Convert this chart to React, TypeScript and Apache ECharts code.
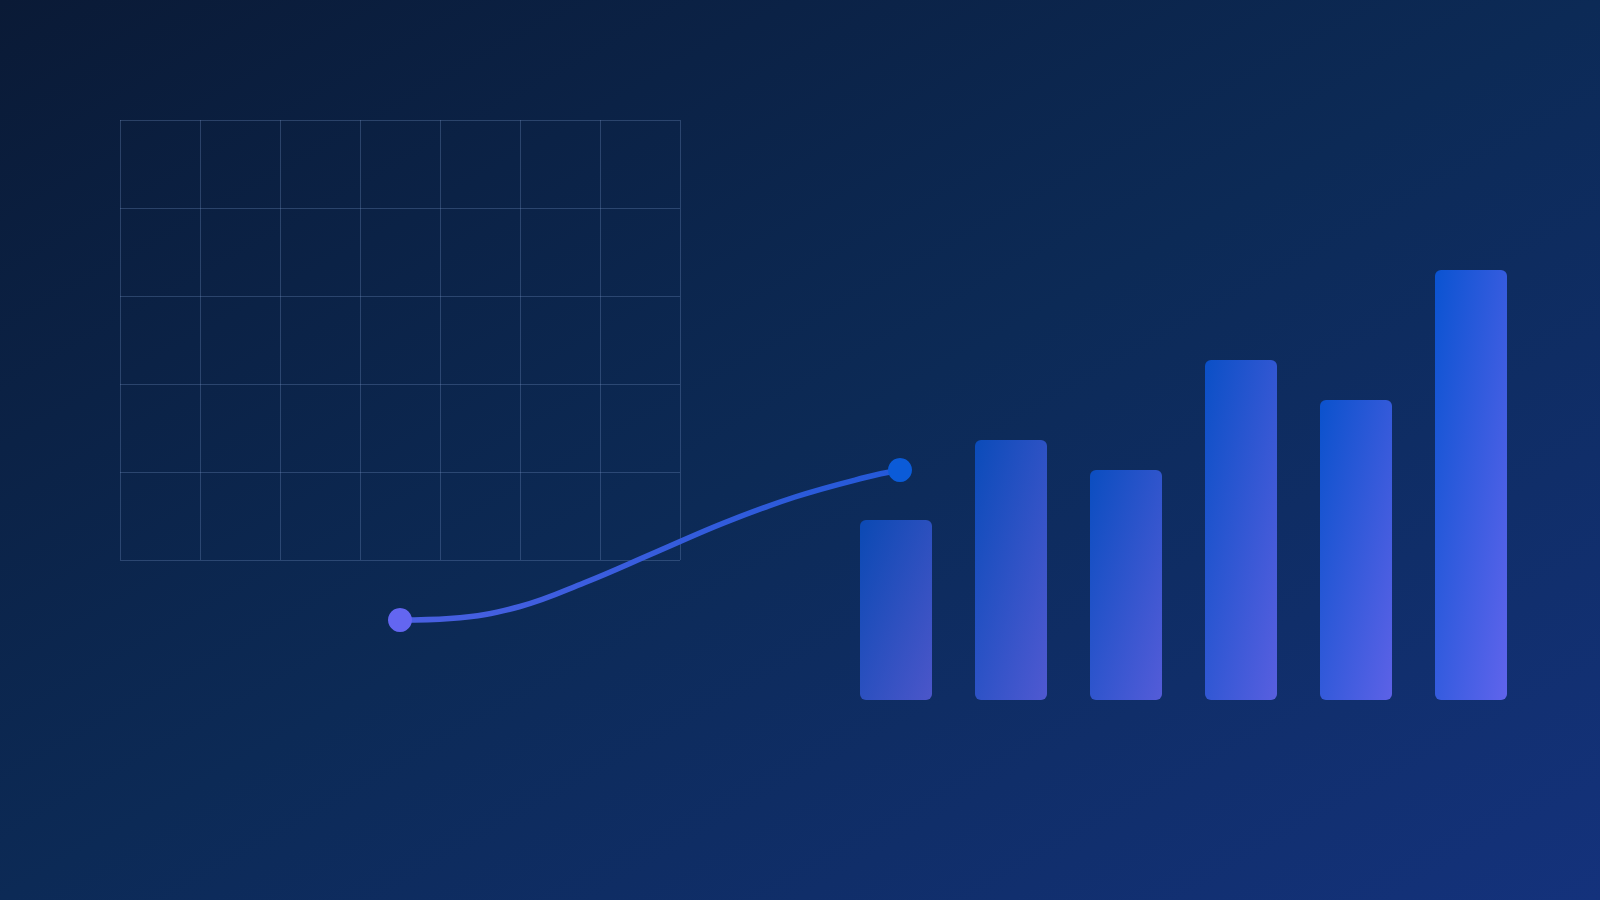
import { useEffect, useRef } from 'react'
import * as echarts from 'echarts'

// bar heights, left to right
const BAR_CATEGORIES = ['1', '2', '3', '4', '5', '6']
const BAR_VALUES = [18, 26, 23, 34, 30, 43]
const BAR_MAX = 50

// the S-shaped trend line (x / y in % of its own box)
const LINE_X = [0, 10, 24, 37, 51, 65, 79, 93, 100]
const LINE_Y = [0, 1, 9, 25, 45, 65, 82, 95, 100]

// decorative mesh: 7 columns x 5 rows
const MESH_COLS = 7
const MESH_ROWS = 5

const BAR_OPACITY = [0.72, 0.77, 0.82, 0.87, 0.92, 0.96]

export default function App() {
  const chartRef = useRef<HTMLDivElement>(null)

  useEffect(() => {
    if (!chartRef.current) return
    document.body.style.margin = '0'
    const chart = echarts.init(chartRef.current, undefined, { renderer: 'svg' })

    const meshLine = { show: true, lineStyle: { color: 'rgba(120,150,200,0.3)', width: 1 } }
    const hidden = { show: false }

    const lineData = LINE_X.map((x, i) => [x, LINE_Y[i]])
    const ends = [
      { value: lineData[0], itemStyle: { color: '#6366f1' } },
      { value: lineData[lineData.length - 1], itemStyle: { color: '#0b5bd8' } },
    ]

    const option: echarts.EChartsOption = {
      animation: false,
      backgroundColor: new echarts.graphic.LinearGradient(0, 0, 1, 1, [
        { offset: 0, color: '#0a1a36' },
        { offset: 0.5, color: '#0c2a56' },
        { offset: 1, color: '#14327c' },
      ]),
      grid: [
        // mesh
        { left: 120, top: 120, width: 560, height: 440, show: false, containLabel: false },
        // bars
        { left: 838.5, top: 200, width: 690, height: 500, containLabel: false },
        // trend line
        { left: 400, top: 470, width: 500, height: 150, containLabel: false },
      ],
      xAxis: [
        {
          gridIndex: 0,
          type: 'value',
          min: 0,
          max: MESH_COLS,
          interval: 1,
          axisLine: hidden,
          axisTick: hidden,
          axisLabel: hidden,
          splitLine: { ...meshLine, showMinLine: true, showMaxLine: true },
        },
        {
          gridIndex: 1,
          type: 'category',
          data: BAR_CATEGORIES,
          axisLine: hidden,
          axisTick: hidden,
          axisLabel: hidden,
          splitLine: hidden,
        },
        {
          gridIndex: 2,
          type: 'value',
          min: 0,
          max: 100,
          axisLine: hidden,
          axisTick: hidden,
          axisLabel: hidden,
          splitLine: hidden,
        },
      ],
      yAxis: [
        {
          gridIndex: 0,
          type: 'value',
          min: 0,
          max: MESH_ROWS,
          interval: 1,
          axisLine: hidden,
          axisTick: hidden,
          axisLabel: hidden,
          splitLine: { ...meshLine, showMinLine: true, showMaxLine: true },
        },
        {
          gridIndex: 1,
          type: 'value',
          min: 0,
          max: BAR_MAX,
          axisLine: hidden,
          axisTick: hidden,
          axisLabel: hidden,
          splitLine: hidden,
        },
        {
          gridIndex: 2,
          type: 'value',
          min: 0,
          max: 100,
          axisLine: hidden,
          axisTick: hidden,
          axisLabel: hidden,
          splitLine: hidden,
        },
      ],
      series: [
        {
          type: 'bar',
          xAxisIndex: 1,
          yAxisIndex: 1,
          barWidth: 72,
          data: BAR_VALUES.map((v, i) => ({
            value: v,
            itemStyle: {
              opacity: BAR_OPACITY[i],
              borderRadius: 6,
              color: new echarts.graphic.LinearGradient(0, 0, 1, 1, [
                { offset: 0, color: '#0a55d6' },
                { offset: 1, color: '#6366f1' },
              ]),
            },
          })),
        },
        {
          type: 'line',
          xAxisIndex: 2,
          yAxisIndex: 2,
          data: lineData,
          smooth: 0.4,
          clip: false,
          showSymbol: false,
          lineStyle: {
            width: 5.5,
            cap: 'round',
            color: new echarts.graphic.LinearGradient(0, 0, 1, 0, [
              { offset: 0, color: '#4a60e2' },
              { offset: 1, color: '#2459d8' },
            ]),
          },
          z: 3,
        },
        {
          type: 'scatter',
          xAxisIndex: 2,
          yAxisIndex: 2,
          symbolSize: 24,
          clip: false,
          itemStyle: { opacity: 1 },
          data: ends,
          z: 4,
        },
      ],
    }

    chart.setOption(option)
    return () => chart.dispose()
  }, [])

  return <div ref={chartRef} style={{ width: 1600, height: 900 }} />
}
